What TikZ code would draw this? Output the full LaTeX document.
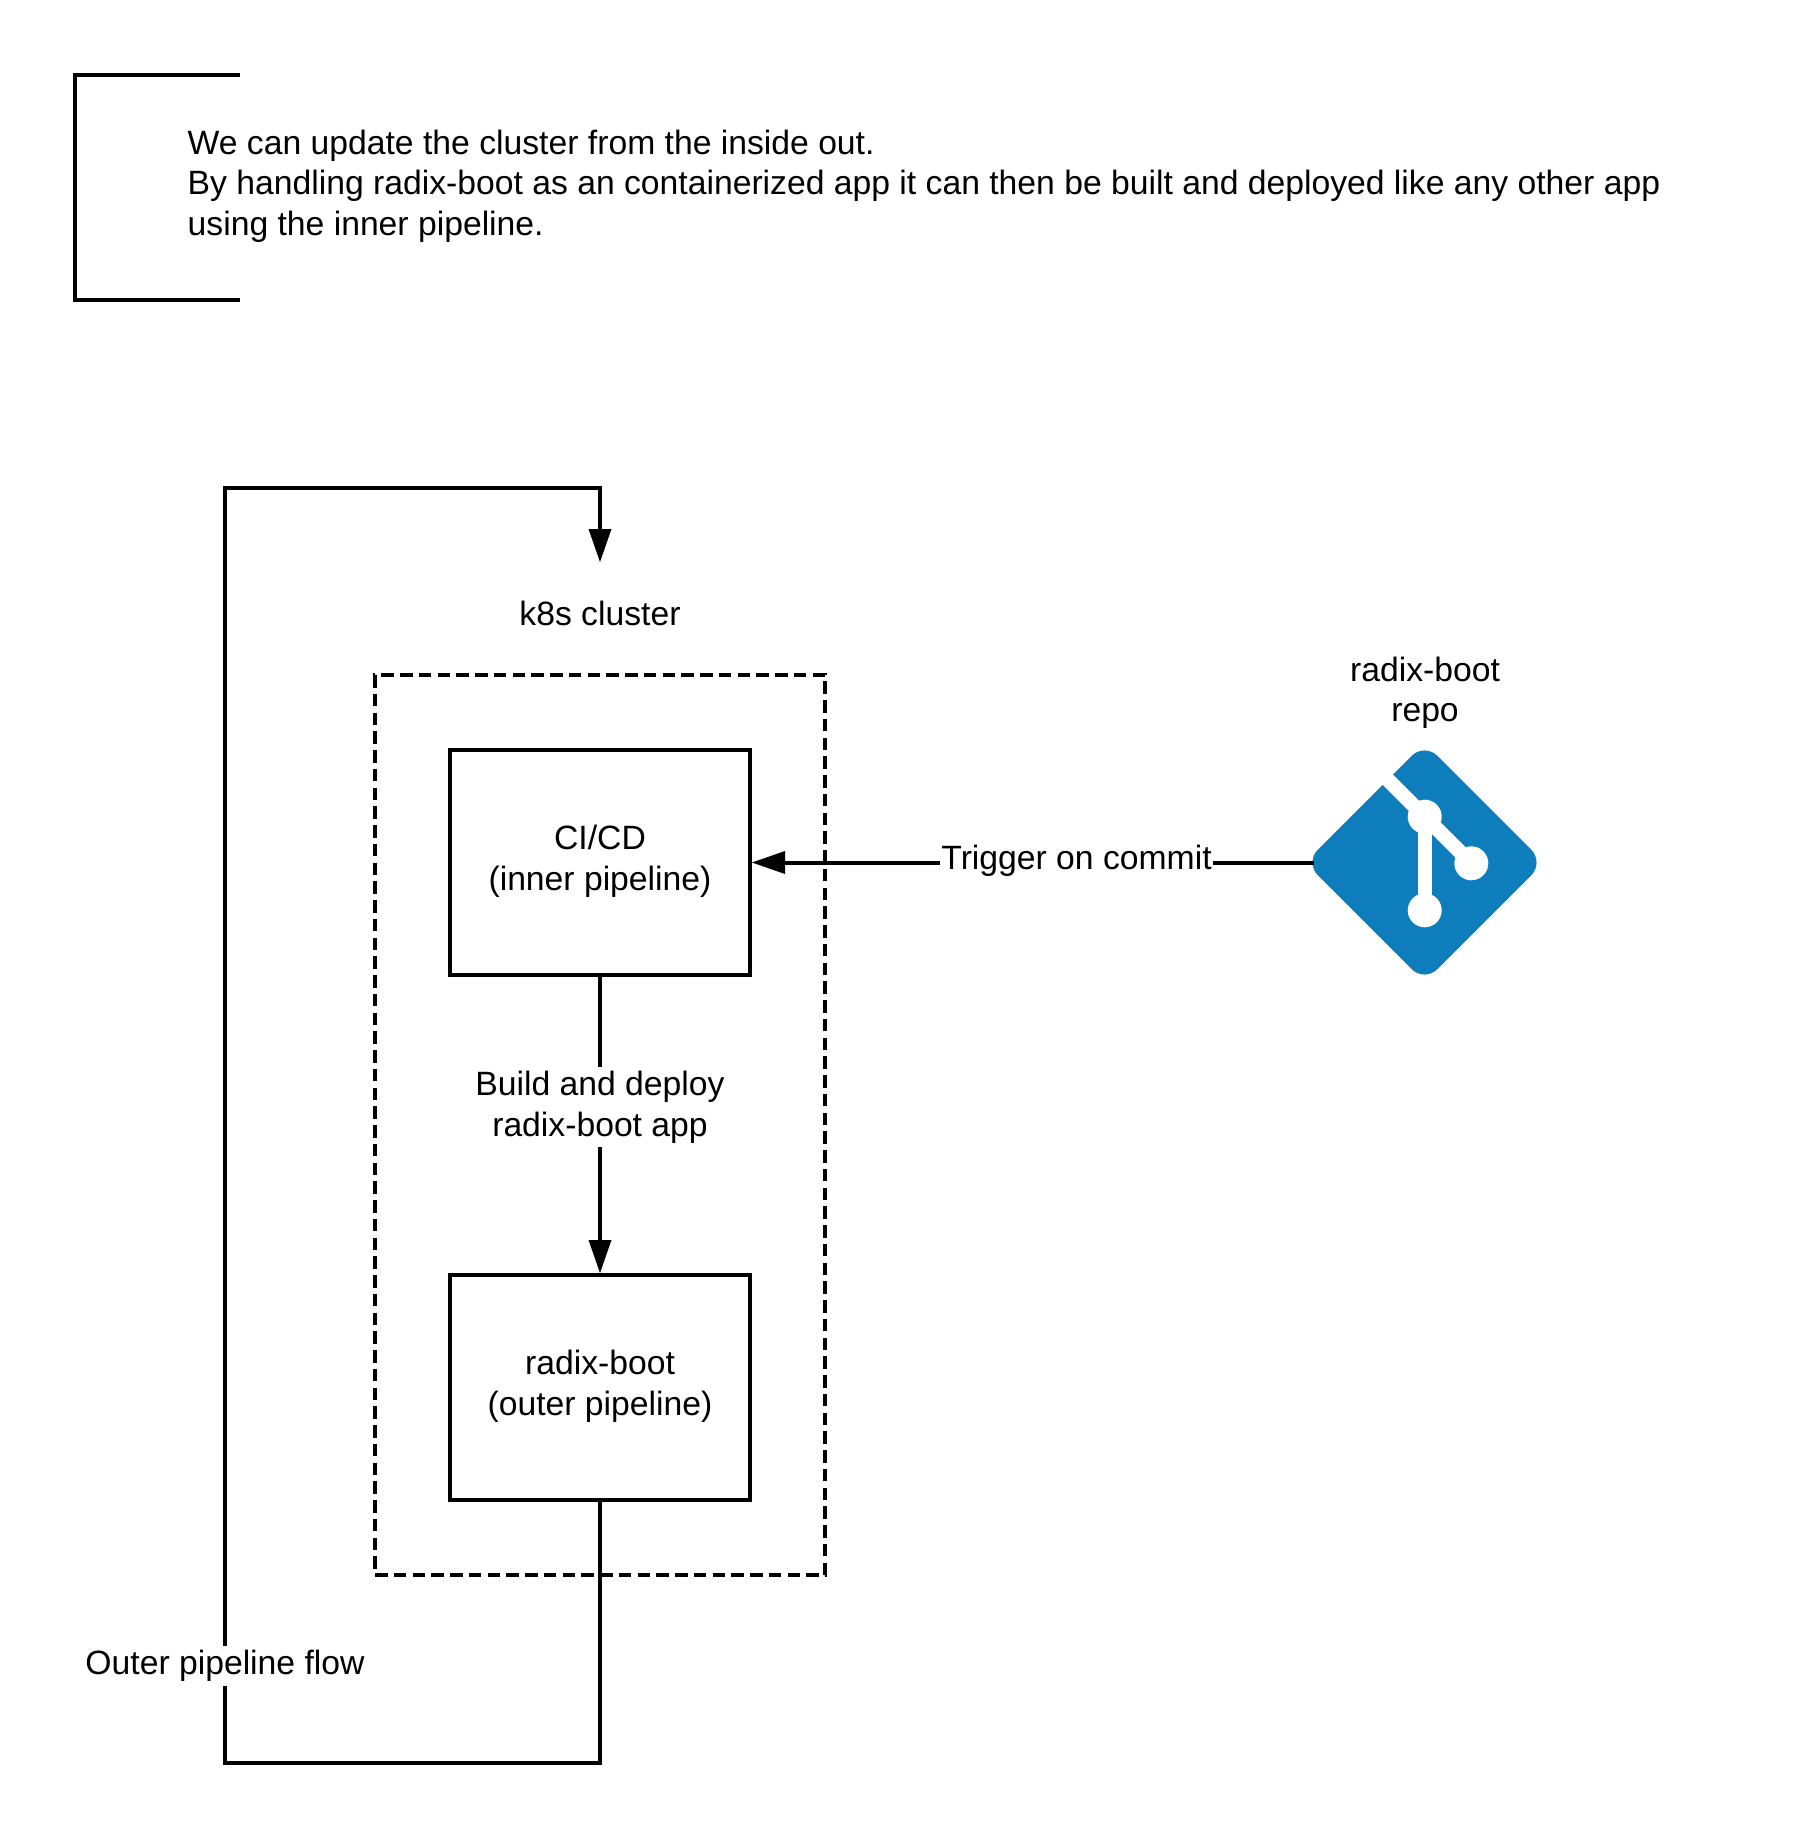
\documentclass[tikz,border=0pt]{standalone}
\usepackage{fontspec}
\setmainfont{Liberation Sans}
\usetikzlibrary{arrows.meta}
\definecolor{gitblue}{RGB}{13,125,188}
\tikzset{
  x=1pt,y=-1pt,
  every node/.style={font=\fontsize{33.7}{40.5}\selectfont,align=center,inner sep=0pt,text=black},
  ln/.style={draw=black,line width=4pt},
  arr/.style={ln,-{Triangle[length=33pt,width=23pt,line width=0pt,sep=0pt]}},
  boxs/.style={ln,minimum width=300pt,minimum height=225pt},
  lbl/.style={fill=white,inner xsep=1pt,inner ysep=4pt},
}
\begin{document}
\begin{tikzpicture}
\useasboundingbox (0,0) rectangle (1800,1839);
% note bracket
\draw[ln,miter limit=10] (240,75) -- (75,75) -- (75,300) -- (240,300);
\node[anchor=west,align=left] (note) at (187.5,186) {We can update the cluster from the inside out.\\By handling radix-boot as an containerized app it can then be built and deployed like any other app\\using the inner pipeline.};
% cluster
\node[anchor=center,draw=black,line width=4pt,dash pattern=on 12.5pt off 6.25pt,minimum width=450pt,minimum height=900pt] (cluster) at (600,1125) {};
\node (k8s) at (600,613) {k8s cluster};
\coordinate (top) at (600,562);
% boxes
\node[boxs] (cicd) at (600,862.5) {};
\node (cicdtext) at (600,861.5) {\vphantom{(}CI/CD\\(inner pipeline)};
\node[boxs] (boot) at (600,1387.5) {};
\node (boottext) at (600,1386.5) {radix-boot\\(outer pipeline)};
\draw[arr] (boot.south) -- (600,1762.5) -- (225,1762.5) -- (225,487.5) -- (600,487.5) -- (top);
\node[fill=white,inner xsep=2pt,inner ysep=4pt] (outer) at (225,1666) {Outer pipeline flow};
\draw[arr] (cicd.south) -- node[lbl,pos=0.44] {Build and deploy\\radix-boot app} (boot.north);
% git icon
\coordinate (gc) at (1424.5,862.5);
\fill[gitblue,rounded corners=18pt] (1424.5,743) -- (1544,862.5) -- (1424.5,982) -- (1305,862.5) -- cycle;
\coordinate (g1) at (1424.7,816.7);
\coordinate (g2) at (1471.3,863.3);
\coordinate (g3) at (1424.7,910.3);
\draw[white,line width=14.5pt] (1385,777) -- (g1) -- (g2);
\draw[white,line width=14pt] (g1) -- (g3);
\fill[white] (g1) circle (17pt) (g2) circle (17pt) (g3) circle (17pt);
\coordinate (git) at (1314,862.5);
\node (repo) at (1425,693) {radix-boot\\repo};
\draw[arr] (git) -- node[lbl,pos=0.4225,yshift=2pt] {Trigger on commit} (cicd.east);
\end{tikzpicture}
\end{document}
